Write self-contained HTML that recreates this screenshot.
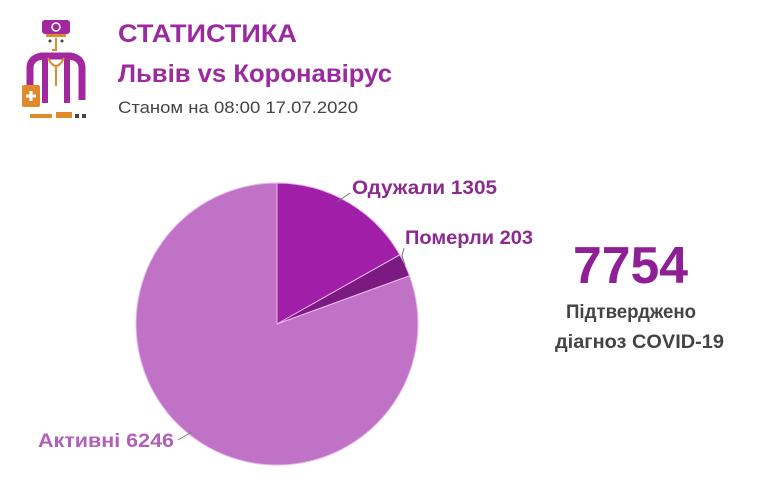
<!DOCTYPE html>
<html><head><meta charset="utf-8"><style>
body{margin:0;background:#fff;}
svg{display:block;}
</style></head><body>
<svg width="767" height="482" viewBox="0 0 767 482" xmlns="http://www.w3.org/2000/svg" font-family="'Liberation Sans', sans-serif">
<rect width="767" height="482" fill="#fff"/>
<g>
<rect x="42" y="20" width="28" height="14" rx="3" fill="#a2289f"/>
<circle cx="56" cy="27" r="4" fill="none" stroke="#fff" stroke-width="1.5"/>
<rect x="46" y="34" width="20" height="3" fill="#e08a2c"/>
<circle cx="50" cy="41" r="1.5" fill="#444"/><circle cx="62" cy="41" r="1.5" fill="#444"/>
<path d="M56 38 v12 h-4" stroke="#e08a2c" stroke-width="2" fill="none"/>
<path d="M30 100 V68 q0-10 12-12 h28 q12 2 12 12 V100" stroke="#a2289f" stroke-width="7" fill="none"/>
<path d="M45 58 v45 M67 58 v45" stroke="#a2289f" stroke-width="6"/>
<path d="M48 58 q8 16 16 0 M56 66 v20" stroke="#e08a2c" stroke-width="2" fill="none"/>
<rect x="22" y="85" width="18" height="22" rx="2" fill="#e08a2c"/>
<path d="M31 91 v10 M26 96 h10" stroke="#fff" stroke-width="3"/>
<rect x="30" y="114" width="22" height="4" fill="#e08a2c"/>
<rect x="56" y="112" width="16" height="6" fill="#e08a2c"/>
<rect x="75" y="114" width="4" height="4" fill="#444"/><rect x="82" y="114" width="4" height="4" fill="#444"/>
</g>
<text x="118" y="42" font-size="25" font-weight="bold" fill="#9b2a9e" textLength="179" lengthAdjust="spacingAndGlyphs">СТАТИСТИКА</text>
<text x="118" y="82" font-size="25" font-weight="bold" fill="#9b2a9e" textLength="274" lengthAdjust="spacingAndGlyphs">Львів vs Коронавірус</text>
<text x="118" y="113" font-size="17" fill="#444" textLength="240" lengthAdjust="spacingAndGlyphs">Станом на 08:00 17.07.2020</text>
<path d="M277 324 L277 183 A141 141 0 0 1 399.8 254.8 Z" fill="#a01ea8" stroke="#e9b8ec" stroke-width="1"/>
<path d="M277 324 L399.8 254.8 A141 141 0 0 1 409.5 275.8 Z" fill="#7b1a80" stroke="#e9b8ec" stroke-width="1"/>
<path d="M277 324 L409.5 275.8 A141 141 0 1 1 277 183 Z" fill="#bf72c6" stroke="#e9b8ec" stroke-width="1"/>
<path d="M337 202 L350 193" stroke="#777" stroke-width="1" fill="none"/>
<path d="M405 265 L402 256 L404 248" stroke="#777" stroke-width="1" fill="none"/>
<path d="M178 440 L192 432" stroke="#777" stroke-width="1" fill="none"/>
<text x="352" y="194" font-size="19" font-weight="bold" fill="#8b2a8f" textLength="145" lengthAdjust="spacingAndGlyphs">Одужали 1305</text>
<text x="405" y="244" font-size="19" font-weight="bold" fill="#8b2a8f" textLength="128" lengthAdjust="spacingAndGlyphs">Померли 203</text>
<text x="38" y="447" font-size="19" font-weight="bold" fill="#b060b8" textLength="136" lengthAdjust="spacingAndGlyphs">Активні 6246</text>
<text x="573" y="283" font-size="52" font-weight="bold" fill="#8e1f94" textLength="115" lengthAdjust="spacingAndGlyphs">7754</text>
<text x="566" y="318" font-size="19" font-weight="bold" fill="#444" textLength="130" lengthAdjust="spacingAndGlyphs">Підтверджено</text>
<text x="555" y="348" font-size="19" font-weight="bold" fill="#444" textLength="169" lengthAdjust="spacingAndGlyphs">діагноз COVID-19</text>
</svg>
</body></html>
